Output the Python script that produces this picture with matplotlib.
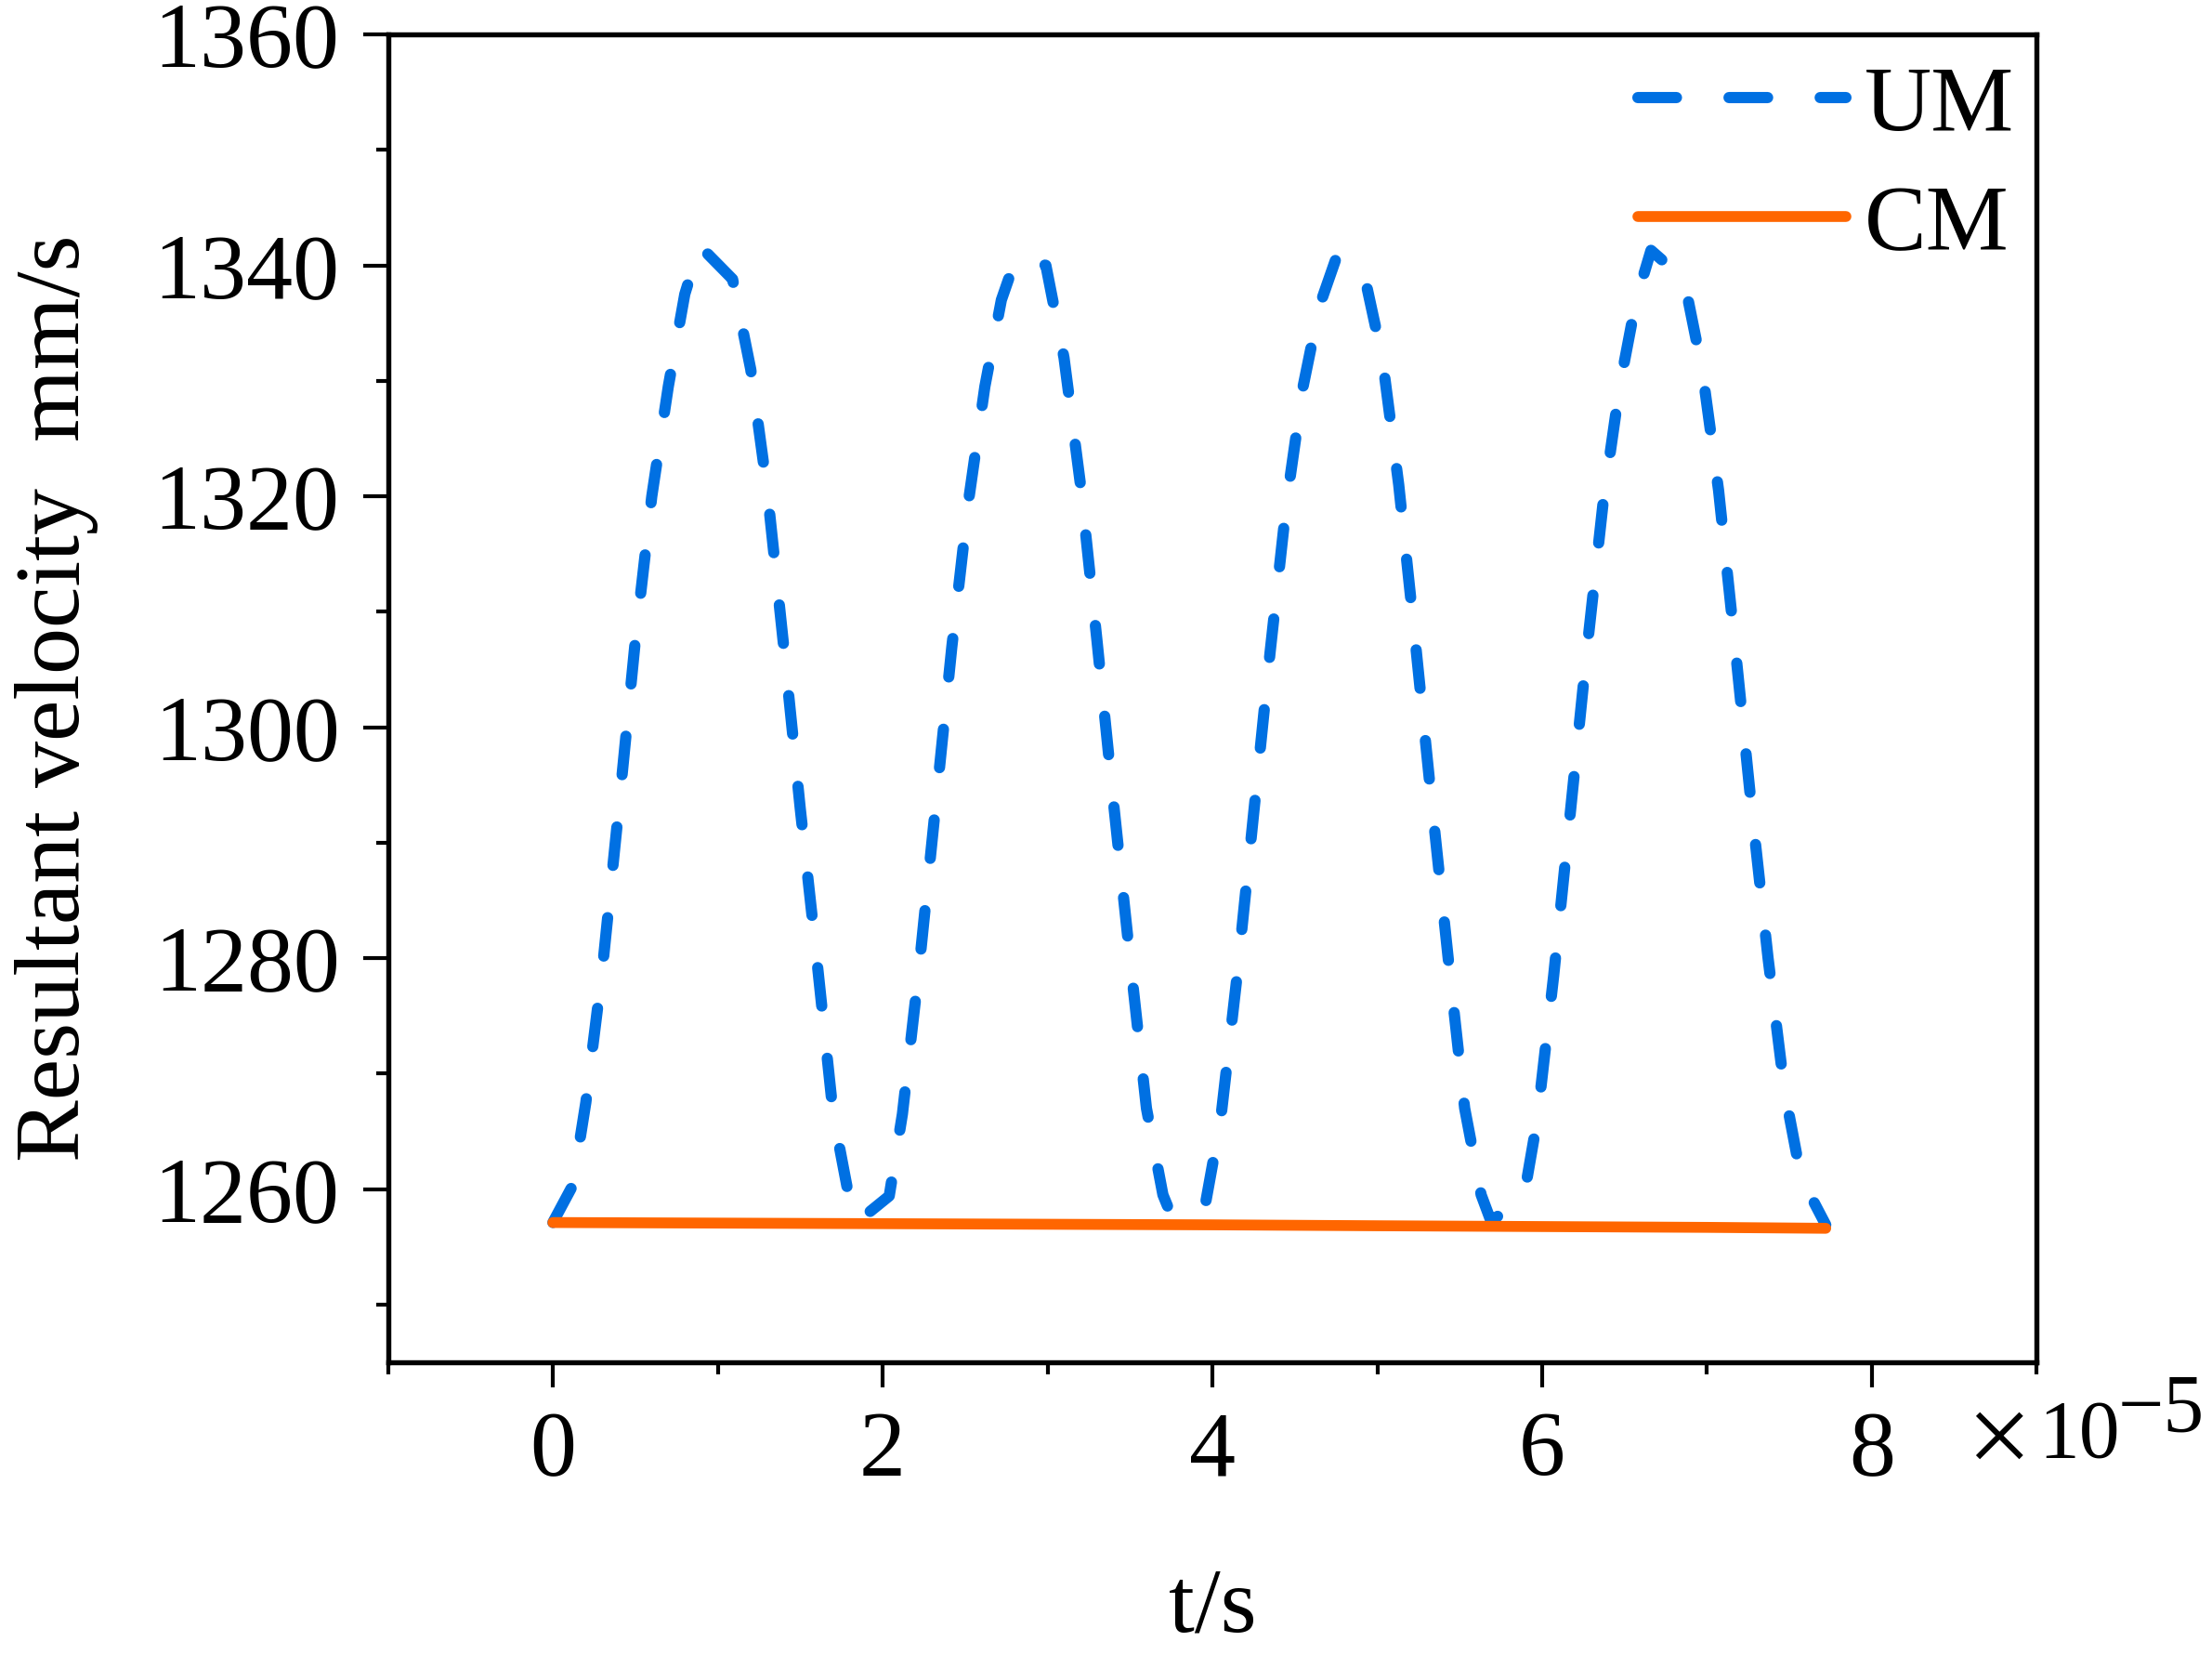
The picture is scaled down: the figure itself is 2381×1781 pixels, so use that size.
import matplotlib
matplotlib.use('Agg')
import matplotlib.pyplot as plt
from matplotlib.ticker import MultipleLocator, FuncFormatter

plt.rcParams['font.family'] = ['Liberation Serif', 'DejaVu Serif']
plt.rcParams['mathtext.fontset'] = 'stix'

# time values in units of 1e-5 s, velocity in mm/s
um_t = [0.00, 0.12, 0.20, 0.30, 0.40, 0.50, 0.60, 0.70, 0.80, 0.89,
        1.09, 1.20, 1.30, 1.40, 1.50, 1.60, 1.70, 1.80, 1.85, 2.04,
        2.12, 2.22, 2.32, 2.42, 2.52, 2.62, 2.72, 2.81,
        2.99, 3.10, 3.20, 3.30, 3.40, 3.50, 3.60, 3.70, 3.76, 3.96,
        4.05, 4.15, 4.25, 4.35, 4.45, 4.55, 4.65, 4.75,
        4.91, 5.03, 5.13, 5.23, 5.33, 5.43, 5.53, 5.63, 5.69, 5.89,
        5.97, 6.07, 6.17, 6.27, 6.37, 6.47, 6.57, 6.66,
        6.86, 6.97, 7.07, 7.17, 7.27, 7.37, 7.47, 7.57, 7.72]
um_v = [1257.1, 1260.3, 1267.5, 1279.0, 1293.0, 1307.5, 1320.0, 1329.5, 1337.5, 1341.7,
        1338.8, 1331.0, 1320.5, 1307.0, 1293.0, 1280.0, 1266.5, 1259.0, 1257.2, 1259.4,
        1266.5, 1279.0, 1293.0, 1307.0, 1319.5, 1329.5, 1337.0, 1340.7,
        1340.0, 1332.0, 1321.0, 1307.5, 1293.5, 1280.0, 1267.0, 1259.5, 1257.4, 1258.9,
        1266.0, 1278.5, 1292.5, 1306.5, 1319.5, 1329.5, 1336.5, 1340.6,
        1339.9, 1332.0, 1321.0, 1307.5, 1293.5, 1280.0, 1267.0, 1259.5, 1257.2, 1259.4,
        1266.0, 1278.5, 1292.5, 1306.5, 1319.5, 1329.5, 1337.0, 1341.3,
        1338.8, 1331.0, 1320.5, 1307.0, 1293.0, 1280.0, 1268.5, 1261.0, 1256.9]

cm_t = [0.0, 1.0, 2.0, 3.0, 4.0, 5.0, 6.0, 7.0, 7.72]
cm_v = [1257.1, 1257.05, 1257.0, 1256.95, 1256.9, 1256.82, 1256.75, 1256.68, 1256.6]

scale = 1e-5
um_ts = [t * scale for t in um_t]
cm_ts = [t * scale for t in cm_t]

fig = plt.figure(figsize=(2381 / 300, 1781 / 300), dpi=300)
ax = fig.add_axes([0.1754, 0.1769, 0.7454, 0.8023])

ax.plot(um_ts, um_v, color='#0070E2', lw=2.9, dashes=(3.44, 4.68),
        dash_capstyle='round', solid_capstyle='round', label='UM')
ax.plot(cm_ts, cm_v, color='#FF6600', lw=2.8, solid_capstyle='round', label='CM')

ax.set_xlim(-1e-5, 9e-5)
ax.set_ylim(1245, 1360)
ax.xaxis.set_major_locator(MultipleLocator(2e-5))
ax.xaxis.set_minor_locator(MultipleLocator(1e-5))
ax.xaxis.set_major_formatter(FuncFormatter(lambda v, p: '%d' % round(v / scale)))
ax.yaxis.set_major_locator(MultipleLocator(20))
ax.yaxis.set_minor_locator(MultipleLocator(10))

for s in ax.spines.values():
    s.set_linewidth(1.3)

ax.tick_params(which='major', direction='out', length=6.5, width=1.0,
               labelsize=24, pad=6)
ax.tick_params(which='minor', direction='out', length=3.2, width=1.0)

# x10^-5 factor drawn as plain text pieces
ax.text(0.9603, -0.0714, r'$\times$', transform=ax.transAxes,
        ha='left', va='baseline', fontsize=22)
ax.text(1.0008, -0.0714, '10', transform=ax.transAxes,
        ha='left', va='baseline', fontsize=21)
ax.text(1.049, -0.0518, '\u22125', transform=ax.transAxes,
        ha='left', va='baseline', fontsize=21)

ax.set_xlabel('t/s', fontsize=24, va='center')
ax.xaxis.set_label_coords(0.5, -0.1855)
ax.set_ylabel('Resultant velocity  mm/s', fontsize=24, va='center')
ax.yaxis.set_label_coords(-0.201, 0.5)

ax.legend(loc='upper right', bbox_to_anchor=(1.009, 1.005), frameon=False,
          fontsize=24, handlelength=2.24, handletextpad=0.2, labelspacing=0.37,
          borderaxespad=0.0)

fig.savefig('out.png', dpi=300)
